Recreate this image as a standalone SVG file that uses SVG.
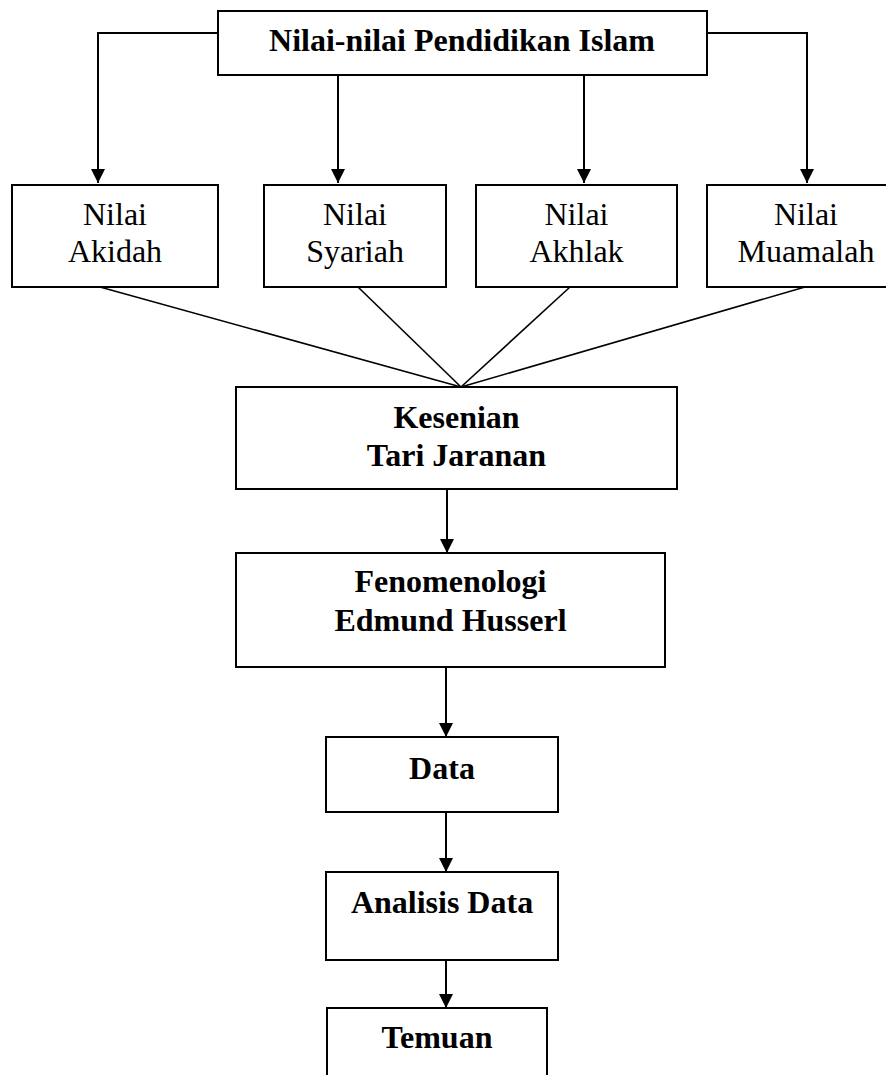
<svg xmlns="http://www.w3.org/2000/svg" width="886" height="1075" viewBox="0 0 886 1075">
  <defs>
    <marker id="arrow" markerUnits="userSpaceOnUse" markerWidth="14" markerHeight="14" refX="14" refY="7" orient="auto">
      <path d="M0,0 L14,7 L0,14 z" fill="#000"/>
    </marker>
    <style>
      .box { fill: #fff; stroke: #000; stroke-width: 2; }
      .conn { fill: none; stroke: #000; stroke-width: 2; }
      .thin { fill: none; stroke: #000; stroke-width: 1.6; }
      .reg { font-family: "Liberation Serif", "Times New Roman", serif; font-size: 32px; fill: #000; text-anchor: middle; }
      .bold { font-family: "Liberation Serif", "Times New Roman", serif; font-size: 32px; font-weight: bold; fill: #000; text-anchor: middle; }
    </style>
  </defs>
  <rect width="886" height="1075" fill="#fff"/>

  <g id="connectors">
    <path class="conn" d="M218,33 H98 V183" marker-end="url(#arrow)"/>
    <path class="conn" d="M338,75 V183" marker-end="url(#arrow)"/>
    <path class="conn" d="M584,75 V183" marker-end="url(#arrow)"/>
    <path class="conn" d="M707,33 H807 V183" marker-end="url(#arrow)"/>
    <line class="thin" x1="100" y1="287" x2="461" y2="387"/>
    <line class="thin" x1="358" y1="287" x2="461" y2="387"/>
    <line class="thin" x1="570" y1="287" x2="461" y2="387"/>
    <line class="thin" x1="805" y1="287" x2="461" y2="387"/>
    <path class="conn" d="M447,489 V553" marker-end="url(#arrow)"/>
    <path class="conn" d="M446,667 V737" marker-end="url(#arrow)"/>
    <path class="conn" d="M446,812 V872" marker-end="url(#arrow)"/>
    <path class="conn" d="M446,960 V1008" marker-end="url(#arrow)"/>
  </g>

  <g id="node-nilai-pendidikan-islam">
    <rect class="box" x="218" y="11" width="489" height="64"/>
    <text class="bold" x="462" y="51">Nilai-nilai Pendidikan Islam</text>
  </g>

  <g id="node-akidah">
    <rect class="box" x="12" y="185" width="206" height="102"/>
    <text class="reg" x="115" y="225">Nilai</text>
    <text class="reg" x="115" y="262">Akidah</text>
  </g>

  <g id="node-syariah">
    <rect class="box" x="264" y="185" width="182" height="102"/>
    <text class="reg" x="355" y="225">Nilai</text>
    <text class="reg" x="355" y="262">Syariah</text>
  </g>

  <g id="node-akhlak">
    <rect class="box" x="476" y="185" width="201" height="102"/>
    <text class="reg" x="576.5" y="225">Nilai</text>
    <text class="reg" x="576.5" y="262">Akhlak</text>
  </g>

  <g id="node-muamalah">
    <rect class="box" x="707" y="185" width="200" height="102"/>
    <text class="reg" x="806" y="225">Nilai</text>
    <text class="reg" x="806" y="262">Muamalah</text>
  </g>

  <g id="node-kesenian">
    <rect class="box" x="236" y="387" width="441" height="102"/>
    <text class="bold" x="456.5" y="428">Kesenian</text>
    <text class="bold" x="456.5" y="466">Tari Jaranan</text>
  </g>

  <g id="node-fenomenologi">
    <rect class="box" x="236" y="553" width="429" height="114"/>
    <text class="bold" x="450.5" y="592">Fenomenologi</text>
    <text class="bold" x="450.5" y="631">Edmund Husserl</text>
  </g>

  <g id="node-data">
    <rect class="box" x="326" y="737" width="232" height="75"/>
    <text class="bold" x="442" y="779">Data</text>
  </g>

  <g id="node-analisis-data">
    <rect class="box" x="326" y="872" width="232" height="88"/>
    <text class="bold" x="442" y="913">Analisis Data</text>
  </g>

  <g id="node-temuan">
    <rect class="box" x="327" y="1008" width="220" height="90"/>
    <text class="bold" x="437" y="1048">Temuan</text>
  </g>
</svg>
